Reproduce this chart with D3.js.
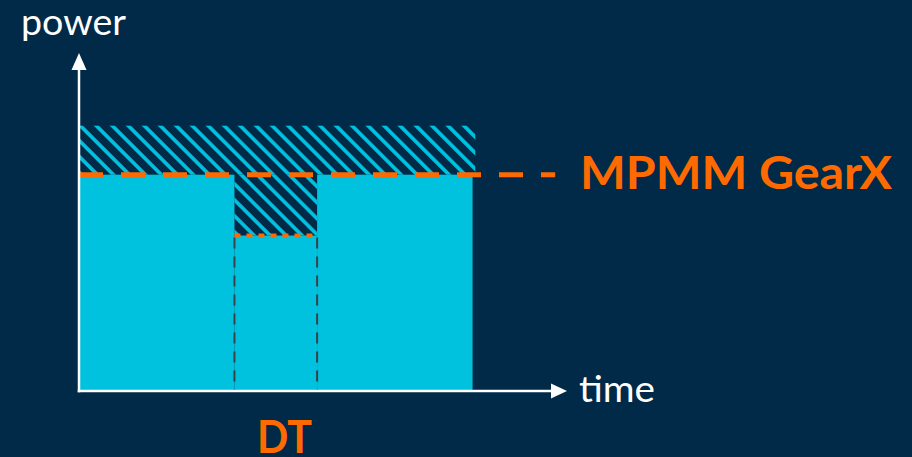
<!DOCTYPE html>
<html>
<head>
<meta charset="utf-8">
<script src="https://cdn.jsdelivr.net/npm/d3@7"></script>
<style>
  html, body { margin: 0; padding: 0; background: #002a48; }
  svg { display: block; }
</style>
</head>
<body>
<svg id="chart" width="912" height="457"></svg>
<script>
// Time boundaries of the three workload segments and their sustained power
const segmentStart = [0, 3.95, 6.05];
const segmentEnd   = [3.95, 6.05, 10];
const segmentPower = [64, 46, 64];

// Throttled headroom (hatched) and the MPMM GearX limit
const peakPower   = 78.5;
const hatchEnd    = 10.07;
const mpmmLevel   = 64;
const mpmmLineEnd = 12.1;

// Throttling window
const dtStart = 3.95;
const dtEnd   = 6.05;
const dtPower = 46;

// Axis extents and labels
const timeMax  = 12.4;
const powerMax = 100;
const axisLabels = { y: "power", x: "time" };
const limitLabel = "MPMM GearX";
const windowLabel = "DT";

const colors = {
  bg: "#002a48",
  cyan: "#00c1de",
  orange: "#ff6a00",
  axis: "#ffffff",
  guide: "#3b4248"
};

const svg = d3.select("#chart");
svg.append("rect").attr("width", 912).attr("height", 457).attr("fill", colors.bg);

const x = d3.scaleLinear().domain([0, timeMax]).range([79, 567]);
const y = d3.scaleLinear().domain([0, powerMax]).range([391, 53]);

// Diagonal hatch pattern
const defs = svg.append("defs");
const pat = defs.append("pattern")
  .attr("id", "hatch")
  .attr("patternUnits", "userSpaceOnUse")
  .attr("width", 11.3).attr("height", 12)
  .attr("patternTransform", "rotate(-45)");
pat.append("rect").attr("width", 11.3).attr("height", 12).attr("fill", colors.bg);
pat.append("rect").attr("x", 0).attr("width", 3.7).attr("height", 12).attr("fill", colors.cyan);

// Hatched headroom above the limit and inside the throttling window
svg.append("rect")
  .attr("x", x(0)).attr("y", y(peakPower))
  .attr("width", x(hatchEnd) - x(0))
  .attr("height", y(mpmmLevel) - y(peakPower))
  .attr("fill", "url(#hatch)");
svg.append("rect")
  .attr("x", x(dtStart)).attr("y", y(mpmmLevel))
  .attr("width", x(dtEnd) - x(dtStart))
  .attr("height", y(dtPower) - y(mpmmLevel))
  .attr("fill", "url(#hatch)");

// Sustained power segments
const segs = segmentStart.map((s, i) => ({ s, e: segmentEnd[i], p: segmentPower[i] }));
svg.selectAll("rect.seg").data(segs).enter().append("rect")
  .attr("class", "seg")
  .attr("x", d => x(d.s))
  .attr("y", d => y(d.p))
  .attr("width", d => x(d.e) - x(d.s))
  .attr("height", d => y(0) - y(d.p))
  .attr("fill", colors.cyan);

// Vertical guides marking the window
svg.selectAll("line.guide").data([dtStart, dtEnd]).enter().append("line")
  .attr("class", "guide")
  .attr("x1", d => x(d)).attr("x2", d => x(d))
  .attr("y1", y(dtPower) + 2).attr("y2", y(0))
  .attr("stroke", colors.guide)
  .attr("stroke-width", 2)
  .attr("stroke-dasharray", "11 8");

// Reduced level inside the window
svg.append("line")
  .attr("x1", x(dtStart)).attr("x2", x(dtEnd))
  .attr("y1", y(dtPower)).attr("y2", y(dtPower))
  .attr("stroke", colors.orange)
  .attr("stroke-width", 4)
  .attr("stroke-dasharray", "6 6");

// MPMM limit line
svg.append("line")
  .attr("x1", x(0)).attr("x2", x(mpmmLineEnd))
  .attr("y1", y(mpmmLevel)).attr("y2", y(mpmmLevel))
  .attr("stroke", colors.orange)
  .attr("stroke-width", 5)
  .attr("stroke-dasharray", "24 18");

// Axes
const xAxis = d3.axisBottom(x).ticks(0).tickSize(0).tickSizeOuter(0);
const yAxis = d3.axisLeft(y).ticks(0).tickSize(0).tickSizeOuter(0);
const gx = svg.append("g").attr("transform", `translate(0,${y(0)})`).call(xAxis);
const gy = svg.append("g").attr("transform", `translate(${x(0)},0)`).call(yAxis);
[gx, gy].forEach(g => {
  g.select(".domain").attr("stroke", colors.axis).attr("stroke-width", 2.5);
  g.selectAll("text").remove();
});
gx.select(".domain").attr("d", `M${x(0) - 1.25},0H${x(timeMax) - 8}`);
gy.select(".domain").attr("d", `M0,${y(0) + 1.25}V${y(powerMax) + 8}`);

// Arrowheads
svg.append("path")
  .attr("d", `M${x(timeMax)},${y(0)}l-16,-7.5v15z`)
  .attr("fill", colors.axis);
svg.append("path")
  .attr("d", `M${x(0)},${y(powerMax)}l-7.5,17h15z`)
  .attr("fill", colors.axis);

// Labels
const font = "Lato, 'Open Sans', sans-serif";
svg.append("text")
  .attr("x", 21).attr("y", 35)
  .attr("font-family", font).attr("font-size", 37)
  .attr("fill", colors.axis)
  .attr("textLength", 105).attr("lengthAdjust", "spacingAndGlyphs")
  .text(axisLabels.y);
svg.append("text")
  .attr("x", 579).attr("y", 402)
  .attr("font-family", font).attr("font-size", 37)
  .attr("fill", colors.axis)
  .attr("textLength", 76).attr("lengthAdjust", "spacingAndGlyphs")
  .text(axisLabels.x);
svg.append("text")
  .attr("x", 580).attr("y", 189)
  .attr("font-family", font).attr("font-size", 45).attr("font-weight", 700)
  .attr("fill", colors.orange)
  .attr("textLength", 312).attr("lengthAdjust", "spacingAndGlyphs")
  .text(limitLabel);
svg.append("text")
  .attr("x", 257).attr("y", 453)
  .attr("font-family", font).attr("font-size", 45).attr("font-weight", 700)
  .attr("fill", colors.orange)
  .attr("textLength", 55).attr("lengthAdjust", "spacingAndGlyphs")
  .text(windowLabel);
</script>
</body>
</html>
